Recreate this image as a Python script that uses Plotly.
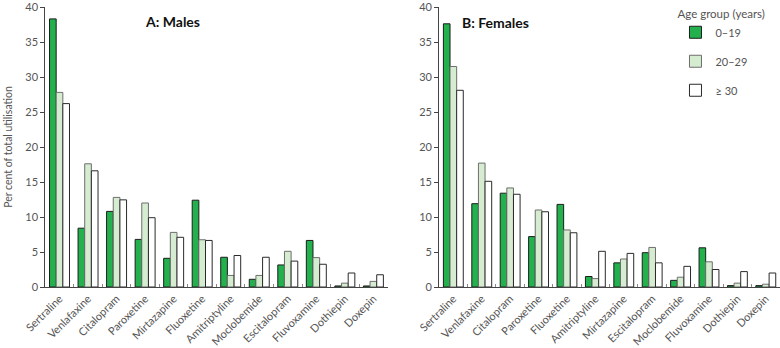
import plotly.graph_objects as go

age_groups = ["0–19", "20–29", "≥ 30"]

males_drugs = ["Sertraline", "Venlafaxine", "Citalopram", "Paroxetine", "Mirtazapine",
               "Fluoxetine", "Amitriptyline", "Moclobemide", "Escitalopram",
               "Fluvoxamine", "Dothiepin", "Doxepin"]
males_0_19 = [38.3, 8.4, 10.8, 6.8, 4.1, 12.4, 4.25, 1.1, 3.15, 6.65, 0.15, 0.15]
males_20_29 = [27.8, 17.6, 12.8, 12.0, 7.8, 6.75, 1.65, 1.65, 5.1, 4.2, 0.55, 0.8]
males_30 = [26.2, 16.6, 12.45, 9.9, 7.1, 6.65, 4.5, 4.25, 3.7, 3.25, 2.0, 1.75]

females_drugs = ["Sertraline", "Venlafaxine", "Citalopram", "Paroxetine", "Fluoxetine",
                 "Amitriptyline", "Mirtazapine", "Escitalopram", "Moclobemide",
                 "Fluvoxamine", "Dothiepin", "Doxepin"]
females_0_19 = [37.6, 11.9, 13.4, 7.2, 11.8, 1.5, 3.45, 4.9, 0.95, 5.6, 0.2, 0.2]
females_20_29 = [31.5, 17.7, 14.15, 11.0, 8.15, 1.2, 4.0, 5.65, 1.4, 3.6, 0.55, 0.4]
females_30 = [28.1, 15.1, 13.25, 10.75, 7.75, 5.1, 4.8, 3.45, 2.95, 2.5, 2.2, 2.0]

y_ticks = [0, 5, 10, 15, 20, 25, 30, 35, 40]

fills = ["#22b14c", "#d5ecd1", "#ffffff"]
lines = ["#1d1d1d", "#6e6e6e", "#2a2a2a"]

FONT = "Lato"
GREY = "#555555"

fig = go.Figure()

male_series = [males_0_19, males_20_29, males_30]
female_series = [females_0_19, females_20_29, females_30]

for i, name in enumerate(age_groups):
    fig.add_trace(go.Bar(
        x=males_drugs, y=male_series[i], name=name,
        marker=dict(color=fills[i], line=dict(color=lines[i], width=1)),
        xaxis="x", yaxis="y", legendgroup=name, showlegend=False,
    ))
for i, name in enumerate(age_groups):
    fig.add_trace(go.Bar(
        x=females_drugs, y=female_series[i], name=name,
        marker=dict(color=fills[i], line=dict(color=lines[i], width=1)),
        xaxis="x2", yaxis="y2", legendgroup=name, showlegend=True,
    ))

xcommon = dict(
    type="category", showline=True, linecolor="#444", linewidth=1,
    ticks="inside", tickson="boundaries", ticklen=3, tickcolor="#888",
    tickangle=-45, tickfont=dict(family=FONT, size=11, color=GREY),
    showgrid=False, zeroline=False, automargin=False,
)
ycommon = dict(
    range=[0, 40], tickvals=y_ticks, showline=True, linecolor="#444", linewidth=1,
    ticks="outside", ticklen=4, tickcolor="#444",
    tickfont=dict(family=FONT, size=11, color=GREY),
    showgrid=False, zeroline=False, automargin=False, ticklabeloverflow="allow",
)

TOP = 7
BOTTOM = 61

fig.update_layout(
    width=780, height=348,
    margin=dict(l=0, r=0, t=TOP, b=BOTTOM),
    plot_bgcolor="white", paper_bgcolor="white",
    barmode="group", bargap=0.3, bargroupgap=0,
    font=dict(family=FONT, color=GREY),
    xaxis=dict(domain=[0.058, 0.497], categoryorder="array", categoryarray=males_drugs, **xcommon),
    yaxis=dict(anchor="x", title=dict(text="Per cent of total utilisation",
                                      font=dict(family=FONT, size=10.5, color=GREY), standoff=10),
               **ycommon),
    xaxis2=dict(domain=[0.563, 1.0], anchor="y2", categoryorder="array", categoryarray=females_drugs, **xcommon),
    yaxis2=dict(anchor="x2", **ycommon),
    legend=dict(
        title=dict(text="Age group (years)", font=dict(family=FONT, size=11.5, color=GREY)),
        font=dict(family=FONT, size=11, color=GREY),
        x=0.866, y=1.015, xanchor="left", yanchor="top",
        tracegroupgap=10, bgcolor="rgba(0,0,0,0)",
    ),
    annotations=[
        dict(text="<b>A: Males</b>", x=143, y=11, xref="paper", yref="paper", showarrow=False,
             font=dict(family=FONT, size=14, color="#111")),
        dict(text="<b>B: Females</b>", x=531, y=12, xref="paper", yref="paper", showarrow=False,
             font=dict(family=FONT, size=14, color="#111")),
    ],
)
# convert annotation pixel positions to paper coords
plot_h = 348 - TOP - BOTTOM
for ann in fig.layout.annotations:
    ann.x = ann.x / 780
    ann.y = 1 - (ann.y - TOP) / plot_h

fig.write_html("out.html")
